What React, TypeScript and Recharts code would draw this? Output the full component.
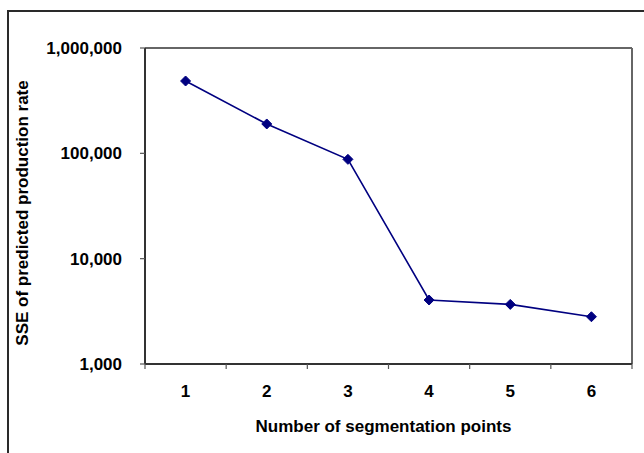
import React from "react";
import { LineChart, Line, XAxis, YAxis, ReferenceLine } from "recharts";

// Number of segmentation points and the resulting SSE
const categories = [1, 2, 3, 4, 5, 6];
const sseValues = [486000, 190000, 87700, 4050, 3680, 2810];
const yTicks = [1000, 10000, 100000, 1000000];

const data = categories.map((c, i) => ({ points: c, sse: sseValues[i] }));

const CHART_W = 644;
const CHART_H = 453;
const MARGIN = { top: 48, right: 12, bottom: 29, left: 45 };
const Y_AXIS_W = 100;
const X_AXIS_H = 60;
const PLOT_W = CHART_W - MARGIN.left - Y_AXIS_W - MARGIN.right;
const PLOT_H = CHART_H - MARGIN.top - MARGIN.bottom - X_AXIS_H;

const FONT = "'Liberation Sans', Arial, Helvetica, sans-serif";
const NAVY = "#000080";

const fmt = (v: number) => v.toLocaleString("en-US");

function XTick(props: any) {
  const { x, y, payload, index } = props;
  const half = PLOT_W / categories.length / 2;
  return (
    <g>
      {index === 0 && (
        <line x1={x - half} x2={x - half} y1={y} y2={y + 5} stroke="#555" strokeWidth={1.2} />
      )}
      <line x1={x + half} x2={x + half} y1={y} y2={y + 5} stroke="#555" strokeWidth={1.2} />
      <text
        x={x}
        y={y + 33}
        textAnchor="middle"
        fontFamily={FONT}
        fontWeight="bold"
        fontSize={17}
        fill="#000"
      >
        {payload.value}
      </text>
    </g>
  );
}

function Diamond(props: any) {
  const { cx, cy } = props;
  if (cx == null || cy == null) return null;
  const r = 5;
  return (
    <polygon
      points={`${cx},${cy - r} ${cx + r},${cy} ${cx},${cy + r} ${cx - r},${cy}`}
      fill={NAVY}
      stroke={NAVY}
      strokeWidth={1}
    />
  );
}

function YTitle(props: any) {
  const vb = props.viewBox || {};
  const cx = 28;
  const cy = (vb.y ?? MARGIN.top) + (vb.height ?? PLOT_H) / 2 + 7;
  return (
    <text
      x={cx}
      y={cy}
      transform={`rotate(-90, ${cx}, ${cy})`}
      textAnchor="middle"
      fontFamily={FONT}
      fontWeight="bold"
      fontSize={17}
      fill="#000"
    >
      SSE of predicted production rate
    </text>
  );
}

function XTitle(props: any) {
  const vb = props.viewBox || {};
  const cx = (vb.x ?? MARGIN.left + Y_AXIS_W) + (vb.width ?? PLOT_W) / 2 - 5;
  return (
    <text
      x={cx}
      y={432}
      textAnchor="middle"
      fontFamily={FONT}
      fontWeight="bold"
      fontSize={17}
      fill="#000"
    >
      Number of segmentation points
    </text>
  );
}

export default function App() {
  return (
    <div
      style={{
        position: "absolute",
        left: 0,
        top: 0,
        width: CHART_W,
        height: CHART_H,
        overflow: "hidden",
        background: "#fff",
      }}
    >
      <div
        style={{
          position: "absolute",
          left: 7,
          top: 10,
          width: CHART_W - 7,
          height: CHART_H - 10,
          borderLeft: "2px solid #2a2a2a",
          borderTop: "2px solid #2a2a2a",
          boxSizing: "border-box",
        }}
      />
      <div style={{ position: "absolute", left: 0, top: 0 }}>
        <LineChart width={CHART_W} height={CHART_H} data={data} margin={MARGIN}>
          <XAxis
            dataKey="points"
            type="number"
            domain={[0.5, 6.5]}
            ticks={categories}
            interval={0}
            allowDataOverflow
            height={X_AXIS_H}
            tickLine={false}
            tickSize={0}
            tickMargin={0}
            axisLine={{ stroke: "#333", strokeWidth: 2 }}
            tick={<XTick />}
            label={{ content: <XTitle /> }}
          />
          <YAxis
            scale="log"
            domain={[1000, 1000000]}
            ticks={yTicks}
            interval={0}
            allowDataOverflow
            width={Y_AXIS_W}
            tickFormatter={fmt}
            tickSize={5}
            tickMargin={18}
            tickLine={{ stroke: "#555", strokeWidth: 1.2 }}
            axisLine={{ stroke: "#333", strokeWidth: 2 }}
            tick={{ fontFamily: FONT, fontWeight: "bold", fontSize: 17, fill: "#000" }}
            label={{ content: <YTitle /> }}
          />
          <ReferenceLine y={1000000} stroke="#666" strokeWidth={2} ifOverflow="visible" />
          <ReferenceLine x={6.5} stroke="#666" strokeWidth={2} ifOverflow="visible" />
          <Line
            type="linear"
            dataKey="sse"
            stroke={NAVY}
            strokeWidth={1.6}
            dot={<Diamond />}
            activeDot={false}
            isAnimationActive={false}
          />
        </LineChart>
      </div>
    </div>
  );
}
